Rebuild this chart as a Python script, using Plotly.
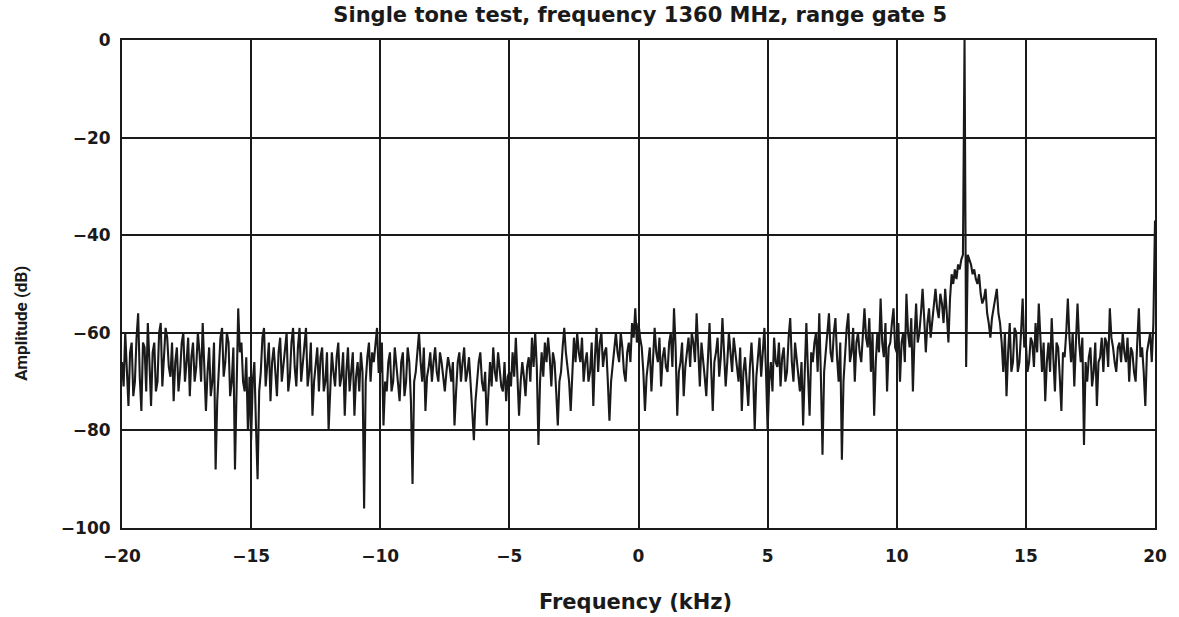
import plotly.graph_objects as go

# Frequency grid (kHz): readings every 0.125 kHz from -20 to 20, plus readings
# taken half-way between them (the trace is very dense in the original).
freq_start = -20.0
freq_step = 0.125

# Amplitude (dB) read at -20, -19.875, ..., 20
amp_grid = [
    -66, -60, -75, -62, -70, -56, -76, -63,   # -20
    -58, -75, -62, -70, -58, -66, -61, -69,   # -19
    -74, -63, -68, -60, -66, -73, -62, -67,   # -18
    -64, -58, -76, -63, -70, -88, -66, -59,   # -17
    -66, -62, -70, -88, -55, -62, -72, -80,   # -16
    -82, -66, -90, -68, -59, -66, -74, -63,   # -15
    -73, -61, -67, -60, -69, -59, -71, -59,   # -14
    -66, -59, -68, -77, -66, -72, -63, -70,   # -13
    -80, -64, -71, -62, -69, -77, -63, -68,   # -12
    -77, -66, -64, -96, -65, -70, -66, -59,   # -11
    -68, -79, -72, -64, -70, -67, -74, -64,   # -10
    -70, -66, -91, -68, -60, -70, -76, -67,   # -9
    -70, -63, -70, -66, -72, -65, -70, -79,   # -8
    -66, -70, -63, -68, -72, -82, -70, -64,   # -7
    -72, -79, -66, -63, -70, -67, -72, -74,   # -6
    -68, -64, -61, -77, -66, -73, -65, -61,   # -5
    -60, -83, -64, -62, -61, -71, -66, -79,   # -4
    -68, -59, -67, -76, -61, -60, -66, -70,   # -3
    -64, -68, -75, -59, -62, -67, -63, -78,   # -2
    -67, -60, -66, -63, -70, -62, -58, -55,   # -1
    -58, -63, -76, -66, -72, -59, -66, -71,   # 0
    -63, -68, -60, -55, -77, -66, -73, -64,   # 1
    -67, -62, -56, -71, -65, -73, -58, -76,   # 2
    -64, -69, -57, -71, -60, -68, -64, -70,   # 3
    -76, -65, -75, -62, -80, -65, -69, -59,   # 4
    -80, -66, -61, -67, -71, -63, -68, -57,   # 5
    -70, -65, -72, -79, -58, -77, -66, -60,   # 6
    -56, -85, -64, -56, -66, -57, -70, -86,   # 7
    -64, -56, -64, -70, -60, -66, -55, -63,   # 8
    -68, -77, -60, -53, -65, -72, -62, -55,   # 9
    -64, -70, -60, -52, -63, -72, -54, -60,   # 10
    -51, -64, -55, -58, -51, -57, -54, -51,   # 11
    -62, -48, -47, -46, -45, 0, -44, -46,     # 12
    -47, -50, -52, -53, -56, -61, -55, -51,   # 13
    -58, -68, -73, -58, -66, -60, -66, -53,   # 14
    -62, -66, -62, -58, -54, -68, -74, -62,   # 15
    -57, -72, -63, -76, -65, -53, -66, -71,   # 16
    -54, -66, -83, -70, -63, -68, -75, -65,   # 17
    -68, -62, -55, -63, -68, -62, -60, -66,   # 18
    -70, -64, -70, -55, -63, -75, -62, -66,   # 19
    -37,                                      # 20
]

# Amplitude (dB) read half-way between the grid readings (-19.9375, ...)
amp_mid = [
    -71, -68, -64, -73, -61, -69, -62, -72,   # -20
    -66, -64, -72, -60, -71, -59, -67, -62,   # -19
    -66, -72, -62, -70, -61, -65, -70, -60,   # -18
    -70, -66, -68, -73, -62, -74, -61, -69,   # -17
    -60, -73, -63, -67, -64, -70, -65, -69,   # -16
    -70, -79, -72, -61, -71, -62, -66, -69,   # -15
    -64, -70, -63, -72, -62, -67, -63, -70,   # -14
    -62, -71, -62, -70, -63, -65, -72, -64,   # -13
    -70, -68, -65, -71, -64, -68, -72, -64,   # -12
    -69, -72, -68, -70, -62, -64, -62, -68,   # -11
    -62, -70, -66, -72, -63, -71, -66, -73,   # -10
    -63, -74, -70, -64, -66, -63, -69, -64,   # -9
    -66, -68, -64, -69, -68, -67, -66, -72,   # -8
    -64, -66, -70, -65, -76, -74, -66, -70,   # -7
    -68, -73, -71, -68, -64, -71, -66, -69,   # -6
    -71, -69, -68, -70, -69, -67, -70, -67,   # -5
    -67, -70, -69, -66, -65, -64, -72, -70,   # -4
    -63, -64, -70, -67, -66, -64, -61, -66,   # -3
    -70, -62, -65, -68, -60, -64, -70, -70,   # -2
    -63, -64, -60, -68, -64, -66, -61, -62,   # -1
    -61, -68, -69, -63, -65, -64, -61, -65,   # 0
    -67, -62, -67, -63, -68, -62, -67, -61,   # 1
    -60, -66, -64, -62, -69, -64, -67, -66,   # 2
    -61, -65, -64, -66, -64, -61, -68, -63,   # 3
    -68, -70, -67, -68, -69, -61, -64, -68,   # 4
    -70, -72, -66, -62, -65, -70, -61, -66,   # 5
    -62, -69, -66, -68, -68, -64, -62, -68,   # 6
    -69, -68, -60, -64, -60, -65, -62, -70,   # 7
    -59, -66, -59, -62, -64, -59, -61, -57,   # 8
    -60, -66, -64, -62, -58, -63, -58, -63,   # 9
    -58, -62, -66, -60, -57, -61, -62, -56,   # 10
    -57, -58, -61, -54, -55, -52, -58, -56,   # 11
    -53, -50, -49, -47, -44, -67, -45, -48,   # 12
    -49, -48, -54, -51, -58, -57, -53, -56,   # 13
    -62, -60, -64, -68, -59, -68, -60, -63,   # 14
    -68, -61, -67, -64, -61, -62, -66, -68,   # 15
    -65, -62, -69, -64, -60, -61, -60, -62,   # 16
    -62, -61, -66, -65, -71, -62, -66, -61,   # 17
    -61, -67, -61, -66, -63, -66, -64, -61,   # 18
    -63, -68, -62, -65, -68, -64, -60, -58,   # 19
]

x_ticks = [-20, -15, -10, -5, 0, 5, 10, 15, 20]
y_ticks = [0, -20, -40, -60, -80, -100]

title_text = "Single tone test, frequency 1360 MHz, range gate 5"
x_title = "Frequency (kHz)"
y_title = "Amplitude (dB)"

# Interleave grid and half-way readings into one trace
freq_khz, amp_db = [], []
for i, v in enumerate(amp_grid):
    freq_khz.append(freq_start + freq_step * i)
    amp_db.append(v)
    if i < len(amp_mid):
        freq_khz.append(freq_start + freq_step * (i + 0.5))
        amp_db.append(amp_mid[i])


def tick_label(v):
    return ("\u2212" + str(-v)) if v < 0 else str(v)


ink = "#1a1a1a"
font_family = "DejaVu Sans"

fig = go.Figure()
fig.add_trace(go.Scatter(
    x=freq_khz, y=amp_db, mode="lines",
    line=dict(color=ink, width=2.1),
    hoverinfo="skip", showlegend=False,
))

fig.update_layout(
    width=1179, height=617,
    margin=dict(l=122, r=24, t=40, b=89, autoexpand=False),
    paper_bgcolor="white", plot_bgcolor="white",
    title=dict(text=title_text, x=0.543, xanchor="center", y=0.976, yanchor="middle",
               font=dict(family=font_family, size=21, color=ink, weight="bold")),
    font=dict(family=font_family, color=ink),
    annotations=[
        dict(text=y_title, xref="paper", yref="paper",
             x=-0.098, y=0.42, xanchor="center", yanchor="middle",
             textangle=-90, showarrow=False,
             font=dict(family="Roboto", size=17, color=ink, weight="bold")),
        dict(text=x_title, xref="paper", yref="paper",
             x=0.497, y=-0.152, xanchor="center", yanchor="middle",
             showarrow=False,
             font=dict(family=font_family, size=21, color=ink, weight="bold")),
    ],
)
fig.update_xaxes(
    range=[-20, 20], tickvals=x_ticks, ticktext=[tick_label(v) for v in x_ticks],
    showgrid=True, gridcolor=ink, gridwidth=1.8,
    showline=True, linecolor=ink, linewidth=2, mirror=True,
    zeroline=False, ticks="", ticklabelstandoff=12, automargin=False,
    tickfont=dict(size=17, weight="bold"),
)
fig.update_yaxes(
    range=[-100, 0], tickvals=y_ticks, ticktext=[tick_label(v) for v in y_ticks],
    showgrid=True, gridcolor=ink, gridwidth=1.8,
    showline=True, linecolor=ink, linewidth=2, mirror=True,
    zeroline=False, ticks="", ticklabelstandoff=6, automargin=False,
    tickfont=dict(size=17, weight="bold"),
)

fig.write_html("out.html")
